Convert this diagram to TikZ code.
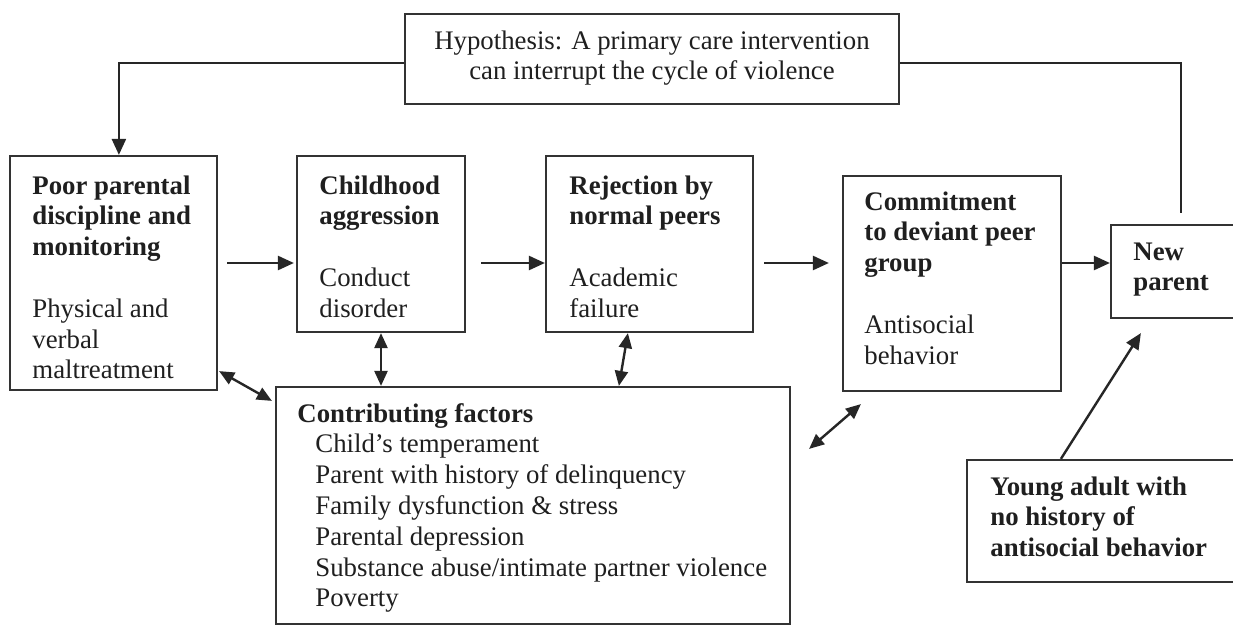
\documentclass[tikz,border=0pt]{standalone}
\usepackage{fontspec}
\setmainfont{Liberation Serif}
\usetikzlibrary{arrows.meta,calc,fit}
\begin{document}
\begin{tikzpicture}[x=0.5pt,y=-0.5pt,
  box/.style={draw=black!80, line width=1.1pt, inner sep=0pt},
  txt/.style={anchor=base west, inner sep=0pt, text=black!88, font=\fontsize{13.4}{15.4}\selectfont},
  conn/.style={draw=black!85, line width=1.2pt},
  arr/.style={conn, -{Triangle[length=8pt,width=7pt]}},
  dbl/.style={conn, {Triangle[length=7.5pt,width=6.5pt]}-{Triangle[length=7.5pt,width=6.5pt]}}]
\useasboundingbox[fill=white] (0,0) rectangle (1233,627);

% boxes
\node[box, fit={(405,14)(899,104)}] (hyp) {};
\node[box, fit={(10,156)(217,390)}] (b1) {};
\node[box, fit={(297,156)(465,332)}] (b2) {};
\node[box, fit={(546,156)(753,332)}] (b3) {};
\node[box, fit={(843,176)(1061,391)}] (b4) {};
\node[box, fit={(1111,225)(1240,318)}] (b5) {};
\node[box, fit={(276,387)(790,624)}] (cf) {};
\node[box, fit={(967,460)(1240,582)}] (ya) {};

% texts
\node[txt, anchor=base] (hypt) at (652,49) {\parbox[t]{300pt}{\centering Hypothesis: A primary care intervention\\ can interrupt the cycle of violence}};
\node[txt] (b1t) at (32,194) {\parbox[t]{200pt}{\textbf{Poor parental}\\ \textbf{discipline and}\\ \textbf{monitoring}\\[15.4pt] Physical and\\ verbal\\ maltreatment}};
\node[txt] (b2t) at (319,194) {\parbox[t]{200pt}{\textbf{Childhood}\\ \textbf{aggression}\\[15.4pt] Conduct\\ disorder}};
\node[txt] (b3t) at (569,194) {\parbox[t]{200pt}{\textbf{Rejection by}\\ \textbf{normal peers}\\[15.4pt] Academic\\ failure}};
\node[txt] (b4t) at (864,210) {\parbox[t]{200pt}{\textbf{Commitment}\\ \textbf{to deviant peer}\\ \textbf{group}\\[15.4pt] Antisocial\\ behavior}};
\node[txt] (b5t) at (1133,260) {\parbox[t]{100pt}{\textbf{New}\\ \textbf{parent}}};
\node[txt] (yat) at (990,495) {\parbox[t]{200pt}{\textbf{Young adult with}\\ \textbf{no history of}\\ \textbf{antisocial behavior}}};
\node[txt] (cft) at (297,422) {\parbox[t]{300pt}{\textbf{Contributing factors}\\
  \hspace*{9pt}Child’s temperament\\
  \hspace*{9pt}Parent with history of delinquency\\
  \hspace*{9pt}Family dysfunction \& stress\\
  \hspace*{9pt}Parental depression\\
  \hspace*{9pt}Substance abuse/intimate partner violence\\
  \hspace*{9pt}Poverty}};

% connectors
\coordinate (row) at (0,263);
\coordinate (np) at (1181,213);
\draw[arr] ([yshift=-2pt]hyp.west) -| ($(b1.north west)+(110,0)$);
\draw[conn] ([yshift=-2pt]hyp.east) -| (np);
\draw[arr, shorten <=4.5pt, shorten >=1pt] (b1.east |- row) -- (b2.west |- row);
\draw[arr, shorten <=7.5pt] (b2.east |- row) -- (b3.west |- row);
\draw[arr, shorten <=5pt, shorten >=6.5pt] (b3.east |- row) -- (b4.west |- row);
\draw[arr] (b4.east |- row) -- (b5.west |- row);
\draw[dbl] (b2.south) -- (b2.south |- cf.north);
\draw[dbl] ($(b3.south west)+(83,0)$) -- ($(cf.north west)+(344,0)$);
\draw[dbl] ($(b1.south east)+(1,-20)$) -- ($(cf.north west)+(-3,15)$);
\draw[dbl] ($(cf.north east)+(18,63)$) -- ($(b4.south west)+(19,12)$);
\draw[arr] ($(ya.north west)+(95,0)$) -- ($(b5.south west)+(31,14)$);
\end{tikzpicture}
\end{document}
